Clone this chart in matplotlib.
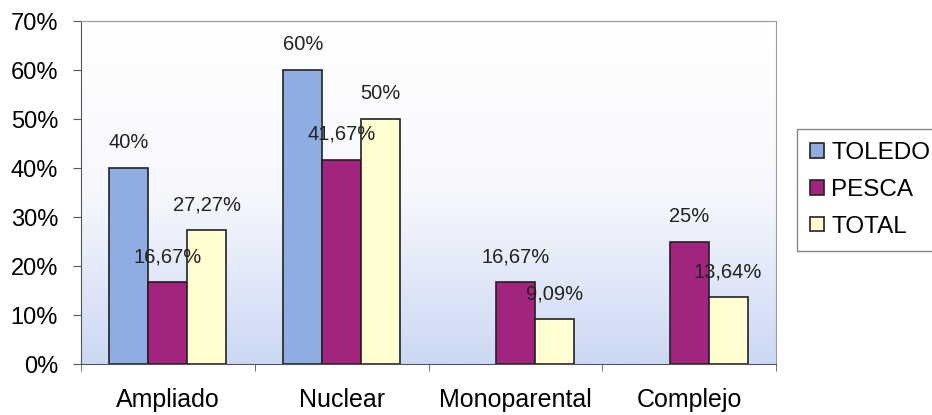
import matplotlib.pyplot as plt
import numpy as np
from matplotlib.colors import LinearSegmentedColormap

categorias = ['Ampliado', 'Nuclear', 'Monoparental', 'Complejo']
toledo = [40, 60, 0, 0]
pesca = [16.67, 41.67, 16.67, 25]
total = [27.27, 50, 9.09, 13.64]
series = ['TOLEDO', 'PESCA', 'TOTAL']
colores = ['#8facE3', '#a3247f', '#ffffd2']

plt.rcParams['font.family'] = ['Liberation Sans', 'DejaVu Sans']

fig = plt.figure(figsize=(9.32, 4.15), dpi=100)
ax = fig.add_axes([81 / 932, 51 / 415, 695 / 932, 343 / 415])

# degradado del fondo (blanco arriba, azul claro abajo)
cmap = LinearSegmentedColormap.from_list('fondo', ['#ffffff', '#f6f8fd', '#ccd8f3'])
grad = np.linspace(0, 1, 256).reshape(-1, 1)
ax.imshow(grad, cmap=cmap, aspect='auto', extent=[-0.5, 3.5, 0, 70], origin='upper', zorder=0)

x = np.arange(len(categorias))
w = 0.224
for i, (vals, nombre, c) in enumerate(zip([toledo, pesca, total], series, colores)):
    pos = x + (i - 1) * w
    barras = ax.bar(pos, vals, w, color=c, edgecolor='#222222', linewidth=1.2, label=nombre, zorder=2)
    for b, p, v in zip(barras, pos, vals):
        if v == 0:
            b.set_visible(False)
            continue
        if v == int(v):
            txt = '%d%%' % v
        else:
            txt = ('%.2f' % v).replace('.', ',') + '%'
        ax.text(p, v + 5.2, txt, ha='center', va='center', fontsize=14.5, color='#222222', zorder=3)

ax.set_xlim(-0.5, 3.5)
ax.set_ylim(0, 70)
ax.set_yticks(range(0, 71, 10))
ax.set_yticklabels(['%d%%' % t for t in range(0, 71, 10)], fontsize=17)
ax.set_xticks(x)
ax.set_xticklabels(categorias, fontsize=18)
ax.set_xticks(np.arange(-0.5, 3.6, 1), minor=True)
ax.tick_params(axis='x', which='major', length=0, pad=17)
ax.tick_params(axis='x', which='minor', length=5, direction='out', color='#555555')
ax.tick_params(axis='y', length=5.5, direction='out', color='#555555', pad=11)
for s in ['top', 'right']:
    ax.spines[s].set_color('#999999')
for s in ['left', 'bottom']:
    ax.spines[s].set_color('#555555')

ax.legend(loc='center left', bbox_to_anchor=(797 / 932, 225 / 415), bbox_transform=fig.transFigure,
          fontsize=17.5, frameon=True, fancybox=False, edgecolor='#666666', borderaxespad=0,
          handlelength=0.55, handleheight=0.55, handletextpad=0.3, labelspacing=0.6, borderpad=0.55)

fig.savefig('out.png', dpi=100)
